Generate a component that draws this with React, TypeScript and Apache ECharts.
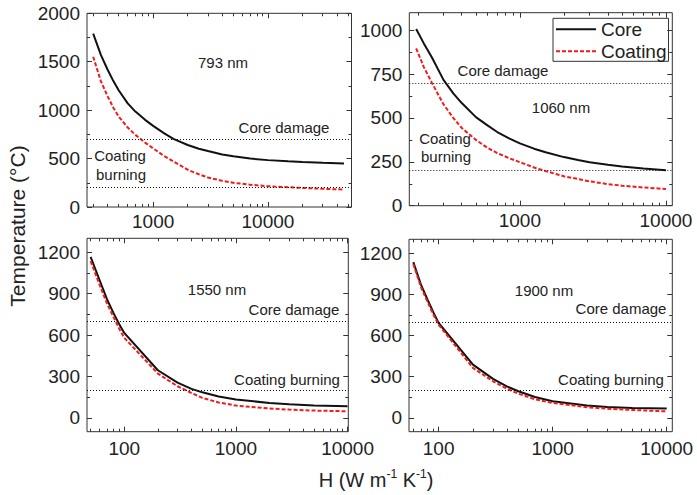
import React, { useEffect, useRef } from 'react';
import * as echarts from 'echarts';

const FONT = "'Liberation Sans', Arial, Helvetica, sans-serif";
const AX = '#333';
const TXT = '#222';

// ---- 793 nm (top-left) ----
const h793 = [300, 350, 400, 450, 500, 600, 700, 850, 1000, 1250, 1500, 2000, 2500, 3000, 4000, 5000, 7000, 10000, 15000, 20000, 30000, 46000];
const core793 = [1790, 1570, 1420, 1300, 1205, 1070, 985, 900, 838, 760, 703, 640, 602, 578, 543, 524, 500, 484, 472, 464, 456, 450];
const coat793 = [1552, 1300, 1145, 1025, 935, 820, 745, 665, 605, 525, 470, 385, 338, 305, 270, 250, 230, 215, 204, 197, 188, 180];

// ---- 1060 nm (top-right) ----
const h1060 = [195, 220, 250, 300, 350, 400, 500, 600, 700, 850, 1000, 1250, 1500, 2000, 2500, 3000, 4000, 5000, 7000, 10000];
const core1060 = [1007, 925, 845, 717, 640, 585, 505, 458, 420, 382, 355, 325, 305, 277, 260, 248, 233, 224, 212, 202];
const coat1060 = [897, 790, 700, 578, 500, 443, 375, 330, 300, 270, 248, 218, 197, 168, 152, 139, 123, 114, 104, 95];

// ---- 1550 nm (bottom-left) ----
const h1550 = [50, 60, 70, 80, 90, 100, 200, 300, 400, 500, 700, 1000, 2000, 3000, 5000, 10000];
const core1550 = [1165, 1000, 860, 760, 680, 615, 345, 255, 210, 185, 155, 133, 108, 98, 90, 85];
const coat1550 = [1135, 966, 828, 732, 647, 580, 321, 229, 180, 145, 112, 89, 68, 60, 53, 48];

// ---- 1900 nm (bottom-right) ----
const h1900 = [60, 70, 80, 90, 100, 200, 300, 400, 500, 700, 1000, 2000, 3000, 5000, 10000];
const core1900 = [1134, 970, 860, 768, 691, 388, 284, 228, 194, 152, 121, 90, 80, 73, 68];
const coat1900 = [1120, 953, 844, 752, 679, 364, 267, 211, 177, 136, 109, 78, 67, 58, 48];

// thresholds
const coreDamage = 700;
const coatingBurning = 200;

// tick labels
const xLabelsTop = [1000, 10000];
const xLabelsBottom = [100, 1000, 10000];
const yTicks2000 = [0, 500, 1000, 1500, 2000];
const yMinor2000 = [250, 750, 1250, 1750];
const yTicks1000 = [0, 250, 500, 750, 1000];
const yMinor1000 = [125, 375, 625, 875];
const yTicks1200 = [0, 300, 600, 900, 1200];
const yMinor1200 = [150, 450, 750, 1050];

function decadeMinors(lo: number, hi: number) {
  const out: number[] = [];
  for (let d = 1; d <= 1e5; d *= 10) {
    for (let m = 2; m <= 9; m++) {
      const v = m * d;
      if (v >= lo && v <= hi) out.push(v);
    }
  }
  return out;
}

const panels = [
  {
    h: h793, core: core793, coat: coat793,
    grid: { left: 87, top: 13.3, width: 264.5, height: 193.7 },
    xMin: 265, xMax: 53500, yMin: 0, yMax: 2000,
    xMajor: xLabelsTop, yMajor: yTicks2000, yMinor: yMinor2000, xMargin: 5,
  },
  {
    h: h1060, core: core1060, coat: coat1060,
    grid: { left: 409.3, top: 12.7, width: 263, height: 193 },
    xMin: 175, xMax: 11050, yMin: 0, yMax: 1100,
    xMajor: xLabelsTop, yMajor: yTicks1000, yMinor: yMinor1000, xMargin: 5,
  },
  {
    h: h1550, core: core1550, coat: coat1550,
    grid: { left: 87, top: 238.3, width: 261.3, height: 193.4 },
    xMin: 46.4, xMax: 10150, yMin: -100, yMax: 1300,
    xMajor: xLabelsBottom, yMajor: yTicks1200, yMinor: yMinor1200, xMargin: 7,
  },
  {
    h: h1900, core: core1900, coat: coat1900,
    grid: { left: 409, top: 239.3, width: 263.3, height: 192.4 },
    xMin: 55, xMax: 11200, yMin: -100, yMax: 1300,
    xMajor: xLabelsBottom, yMajor: yTicks1200, yMinor: yMinor1200, xMargin: 7,
  },
];

function buildOption() {
  const grid: any[] = [];
  const xAxis: any[] = [];
  const yAxis: any[] = [];
  const series: any[] = [];

  panels.forEach((p, i) => {
    grid.push({ ...p.grid, show: true, borderColor: AX, borderWidth: 1, backgroundColor: 'transparent' });
    xAxis.push({
      type: 'log', logBase: 10, gridIndex: i, min: p.xMin, max: p.xMax, position: 'bottom',
      splitLine: { show: false }, axisLine: { show: false, onZero: false },
      axisTick: { show: false }, minorTick: { show: false },
      axisLabel: {
        show: true, customValues: p.xMajor, formatter: (v: number) => String(Math.round(v)),
        fontSize: 19, fontFamily: FONT, color: TXT, margin: p.xMargin,
      },
    });
    yAxis.push({
      type: 'value', gridIndex: i, min: p.yMin, max: p.yMax, position: 'left',
      splitLine: { show: false }, axisLine: { show: false, onZero: false },
      axisTick: { show: false }, minorTick: { show: false },
      axisLabel: {
        show: true, customValues: p.yMajor, formatter: (v: number) => String(Math.round(v)),
        fontSize: 19, fontFamily: FONT, color: TXT, margin: 7,
      },
    });

    // tick marks drawn as markLine segments in data coordinates (through the axes' scales)
    const xMinor = decadeMinors(p.xMin, p.xMax).filter((v) => p.xMajor.indexOf(v) < 0);
    const W = p.grid.width;
    const H = p.grid.height;
    const dy = (px: number) => (px * (p.yMax - p.yMin)) / H;
    const lx = Math.log10(p.xMax) - Math.log10(p.xMin);
    const fx = (px: number) => Math.pow(10, (px * lx) / W);
    const tickSeg: any[] = [];
    const seg = (a: number[], b: number[]) => tickSeg.push([{ coord: a }, { coord: b }]);
    p.xMajor.forEach((v) => {
      seg([v, p.yMin], [v, p.yMin + dy(5)]);
      seg([v, p.yMax], [v, p.yMax - dy(5)]);
    });
    xMinor.forEach((v) => {
      seg([v, p.yMin], [v, p.yMin + dy(3)]);
      seg([v, p.yMax], [v, p.yMax - dy(3)]);
    });
    p.yMajor.forEach((v) => {
      seg([p.xMin, v], [p.xMin * fx(5), v]);
      seg([p.xMax, v], [p.xMax / fx(5), v]);
    });
    p.yMinor.forEach((v) => {
      seg([p.xMin, v], [p.xMin * fx(3), v]);
      seg([p.xMax, v], [p.xMax / fx(3), v]);
    });

    series.push({
      type: 'line', name: 'Core', xAxisIndex: i, yAxisIndex: i,
      data: p.h.map((x, k) => [x, p.core[k]]),
      symbol: 'none', lineStyle: { color: '#111', width: 2 }, itemStyle: { color: '#111' },
      markLine: {
        silent: true, symbol: 'none', label: { show: false },
        lineStyle: { color: '#111', width: 1, type: [1, 2] },
        data: [{ yAxis: coreDamage }, { yAxis: coatingBurning }],
      },
      z: 3,
    });
    series.push({
      type: 'line', name: 'Coating', xAxisIndex: i, yAxisIndex: i,
      data: p.h.map((x, k) => [x, p.coat[k]]),
      symbol: 'none', lineStyle: { color: '#f01c1c', width: 2, type: [4, 2] }, itemStyle: { color: '#f01c1c' },
      markLine: {
        silent: true, symbol: 'none', label: { show: false },
        lineStyle: { color: AX, width: 1, type: 'solid' },
        emphasis: { disabled: true },
        data: tickSeg,
      },
      z: 4,
    });
  });

  return {
    animation: false,
    backgroundColor: '#fff',
    textStyle: { fontFamily: FONT },
    grid, xAxis, yAxis, series,
    legend: {
      data: ['Core', 'Coating'],
      orient: 'vertical', left: 553, top: 18.3,
      itemWidth: 40, itemHeight: 14, itemGap: 2,
      padding: [1, 2, 0, 2],
      borderColor: '#333', borderWidth: 1, backgroundColor: '#fff',
      itemStyle: { opacity: 0 },
      textStyle: { fontSize: 19, fontFamily: FONT, color: TXT, lineHeight: 20 },
      selectedMode: false,
    },
    graphic: textGraphics(),
  };
}

function textGraphics() {
  const t = (text: string, x: number, y: number, size = 15) => ({
    type: 'text', x, y, silent: true,
    style: { text, fontSize: size, fontFamily: FONT, fill: TXT, align: 'center', verticalAlign: 'middle' },
  });
  return [
    t('793 nm', 223, 62),
    t('Core damage', 284, 127.7),
    t('Coating', 120, 155),
    t('burning', 121, 174),
    t('1060 nm', 561, 107.3),
    t('Core damage', 503, 70),
    t('Coating', 445, 138.3),
    t('burning', 446, 156),
    t('1550 nm', 217, 289.3),
    t('Core damage', 294, 309),
    t('Coating burning', 287, 379),
    t('1900 nm', 544, 290),
    t('Core damage', 621, 308.3),
    t('Coating burning', 611, 379),
    {
      type: 'text', x: 17, y: 226, rotation: Math.PI / 2, silent: true,
      style: {
        text: 'Temperature (°C)', fontSize: 21, fontFamily: FONT, fill: TXT,
        align: 'center', verticalAlign: 'middle',
      },
    },
    {
      type: 'text', x: 376, y: 480, silent: true,
      style: {
        text: '{a|H (W m}{s|-1}{a| K}{s|-1}{a|)}',
        align: 'center', verticalAlign: 'middle',
        rich: {
          a: { fontSize: 20, fontFamily: FONT, fill: TXT, lineHeight: 24 },
          s: { fontSize: 12, fontFamily: FONT, fill: TXT, lineHeight: 15, verticalAlign: 'top' },
        },
      },
    },
  ];
}

export default function App() {
  const ref = useRef<HTMLDivElement>(null);
  useEffect(() => {
    if (!ref.current) return;
    const chart = echarts.init(ref.current, undefined, { renderer: 'svg' });
    chart.setOption(buildOption() as any);
    return () => chart.dispose();
  }, []);
  return (
    <div
      ref={ref}
      style={{ position: 'fixed', left: 0, top: 0, width: 697, height: 495, background: '#fff' }}
    />
  );
}
